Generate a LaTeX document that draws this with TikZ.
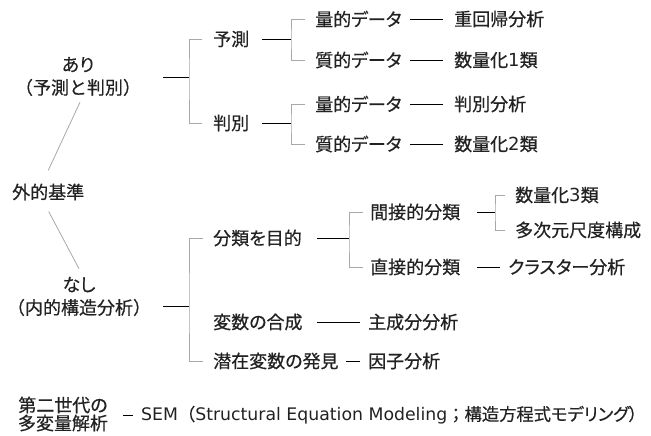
\documentclass[tikz,border=0pt]{standalone}
\usepackage{fontspec}
\setmainfont{Noto Sans CJK JP}[RawFeature=+palt, FakeBold=0.5]
\newfontfamily\jpfull{Noto Sans CJK JP}[FakeBold=0.5]
\newfontfamily\dv{DejaVu Sans}
\usetikzlibrary{calc}
\definecolor{txt}{HTML}{222222}
\definecolor{brk}{HTML}{A8A8A8}
\begin{document}
\begin{tikzpicture}[x=1pt,y=-1pt,
  lbl/.style={anchor=west, inner sep=0pt, text=txt, font=\fontsize{18}{23}\selectfont},
  two/.style={inner sep=0pt, text=txt, align=center, font=\fontsize{18}{23}\selectfont},
  blk/.style={draw=black, line width=0.8pt},
  gry/.style={draw=brk, line width=0.8pt}]
\useasboundingbox (0,0) rectangle (651,436);

% left column
\node[two] (ari) at (78,76.5) {あり\\{\jpfull （予測と判別）}};
\node[lbl] (gaiteki) at (12,192) {外的基準};
\node[two] (nashi) at (79,296.5) {なし\\{\jpfull （内的構造分析）}};

\draw[gry] ($(ari.south)+(2,6)$) -- ($(gaiteki.north)+(0,-13)$);
\draw[gry] ($(gaiteki.south)+(0.5,11)$) -- ($(nashi.north)+(0,-8)$);

% upper tree
\coordinate (a1) at (163,77);
\coordinate (b1) at (189,77);
\node[lbl] (yosoku) at (213,39) {予測};
\node[lbl] (hanbetsu) at (213,123) {判別};
\draw[blk] (a1) -- (b1);
\draw[gry] ([xshift=-11pt]yosoku.west) -| (b1) |- ([xshift=-11pt]hanbetsu.west);

\coordinate (b2) at (291,39);
\coordinate (b3) at (291,123);
\node[lbl] (ryo1) at (315,19) {量的データ};
\node[lbl] (shitsu1) at (315,60) {質的データ};
\node[lbl] (ryo2) at (315,104) {量的データ};
\node[lbl] (shitsu2) at (315,144) {質的データ};
\draw[blk] (262,39) coordinate (l0a) -- (b2);
\draw[blk] (262,123) coordinate (l0b) -- (b3);
\draw[gry] ([xshift=-10pt]ryo1.west) -| (b2) |- ([xshift=-10pt]shitsu1.west);
\draw[gry] ([xshift=-10pt]ryo2.west) -| (b3) |- ([xshift=-10pt]shitsu2.west);

\node[lbl] (jukaiki) at (454,19) {重回帰分析};
\node[lbl] (suryo1) at (454,60) {数量化{\dv 1}類};
\node[lbl] (hbunseki) at (454,104) {判別分析};
\node[lbl] (suryo2) at (454,144) {数量化{\dv 2}類};
\draw[blk] (410,19) coordinate (l1) -- ([xshift=-11pt]jukaiki.west);
\draw[blk] (410,60) coordinate (l2) -- ([xshift=-11pt]suryo1.west);
\draw[blk] (410,104) coordinate (l3) -- ([xshift=-11pt]hbunseki.west);
\draw[blk] (410,144) coordinate (l4) -- ([xshift=-11pt]suryo2.west);

% lower tree
\coordinate (a4) at (163,306);
\coordinate (b4) at (189,306);
\node[lbl] (bunrui) at (213,238) {分類を目的};
\node[lbl] (gosei) at (213,322) {変数の合成};
\node[lbl] (senzai) at (213,361) {潜在変数の発見};
\draw[blk] (a4) -- (b4);
\draw[gry] ([xshift=-10pt]bunrui.west) -| (b4) |- ([xshift=-10pt]senzai.west);

\coordinate (b5) at (349,238);
\node[lbl] (kansetsu) at (370,212) {間接的分類};
\node[lbl] (chokusetsu) at (370,267) {直接的分類};
\draw[blk] (317,238) coordinate (l5) -- (b5);
\draw[gry] ([xshift=-7pt]kansetsu.west) -| (b5) |- ([xshift=-7pt]chokusetsu.west);

\coordinate (b6) at (495,212);
\node[lbl] (suryo3) at (515,195) {数量化{\dv 3}類};
\node[lbl] (tajigen) at (515,230) {多次元尺度構成};
\draw[blk] (477,212) coordinate (l6) -- (b6);
\draw[gry] ([xshift=-10pt]suryo3.west) -| (b6) |- ([xshift=-10pt]tajigen.west);

\node[lbl] (cluster) at (508,267) {クラスター分析};
\draw[blk] (477,267) coordinate (l7) -- ([xshift=-8pt]cluster.west);

\node[lbl] (shusei) at (368,322) {主成分分析};
\node[lbl] (inshi) at (368,361) {因子分析};
\draw[blk] (317,322) coordinate (l8) -- ([xshift=-8pt]shusei.west);
\draw[blk] (346,361) coordinate (l9) -- ([xshift=-8pt]inshi.west);

% bottom
\node[inner sep=0pt, text=txt, align=center, font=\fontsize{18}{18}\selectfont] (daini) at (63,414) {第二世代の\\多変量解析};
\node[lbl, font=\fontsize{17.3}{20}\selectfont] (sem) at (141,415) {{\dv SEM}{\jpfull （}{\dv Structural Equation Modeling}{\jpfull ；構造方程式}モデリング）};
\draw[blk] (123,415) coordinate (l10) -- ([xshift=-8pt]sem.west);
\end{tikzpicture}
\end{document}
